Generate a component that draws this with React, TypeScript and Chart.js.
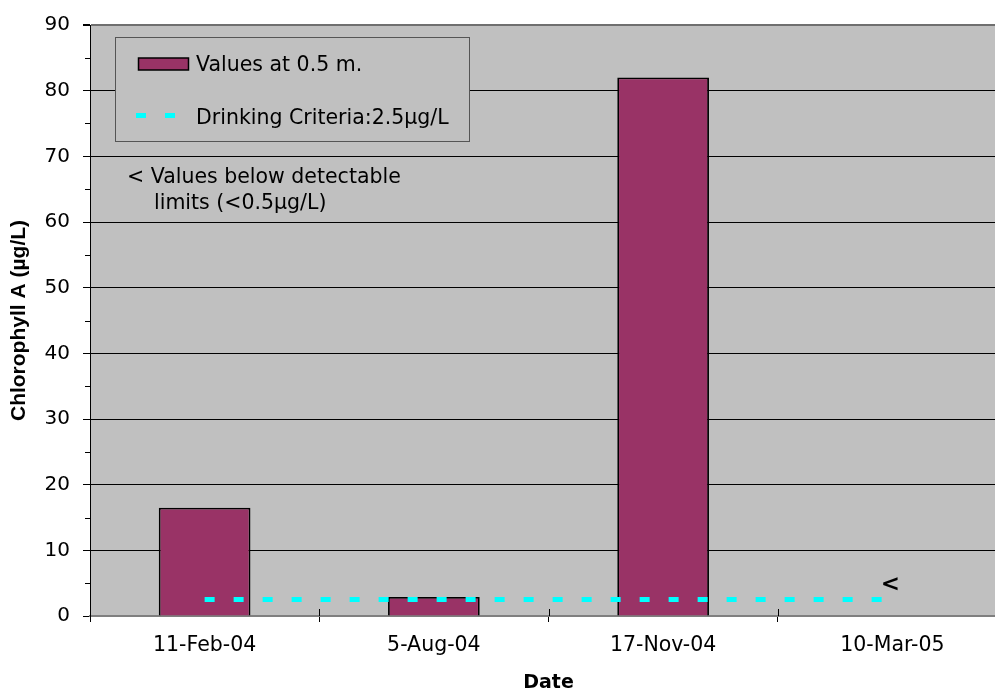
import { useEffect, useRef } from "react";
import { Chart, registerables } from "chart.js";

Chart.register(...registerables);

// Sampling dates and measured chlorophyll A (µg/L) at 0.5 m depth
const sampleDates = ["11-Feb-04", "5-Aug-04", "17-Nov-04", "10-Mar-05"];
const valuesAt05m: (number | null)[] = [16.5, 2.9, 82, null];
const drinkingCriteria = [2.5, 2.5, 2.5, 2.5];
// "<" marks samples below the detection limit
const belowDetection = [false, false, false, true];

const yMin = 0;
const yMax = 90;
const yStep = 10;
const yMinorStep = 5;

const BAR_FILL = "#993366";
const PLOT_BG = "#C0C0C0";
const CRITERIA_COLOR = "#00FFFF";
const FONT = "'DejaVu Sans', sans-serif";

const decorations = {
  id: "decorations",
  beforeDraw(chart: any) {
    const { ctx, chartArea: a } = chart;
    ctx.save();
    ctx.fillStyle = "#ffffff";
    ctx.fillRect(0, 0, chart.width, chart.height);
    ctx.fillStyle = PLOT_BG;
    ctx.fillRect(a.left, a.top, a.right - a.left, a.bottom - a.top);
    ctx.restore();
  },
  afterDatasetsDraw(chart: any) {
    const { ctx } = chart;
    ctx.save();
    // legend box
    ctx.fillStyle = PLOT_BG;
    ctx.fillRect(115.5, 37.5, 354, 104);
    ctx.strokeStyle = "#555555";
    ctx.lineWidth = 1;
    ctx.strokeRect(115.5, 37.5, 354, 104);
    // bar swatch
    ctx.fillStyle = BAR_FILL;
    ctx.fillRect(138.5, 58, 50, 12);
    ctx.strokeStyle = "#000";
    ctx.lineWidth = 1.5;
    ctx.strokeRect(138.5, 58, 50, 12);
    // criteria swatch
    ctx.fillStyle = CRITERIA_COLOR;
    ctx.fillRect(136, 113, 10, 5);
    ctx.fillRect(165, 113, 10, 5);
    ctx.fillStyle = "#000";
    ctx.font = `20.5px ${FONT}`;
    ctx.textAlign = "left";
    ctx.textBaseline = "alphabetic";
    ctx.fillText("Values at 0.5 m.", 196, 71);
    ctx.fillText("Drinking Criteria:2.5µg/L", 196, 123.5);
    ctx.restore();
  },
  afterDraw(chart: any) {
    const { ctx, chartArea: a } = chart;
    const x = chart.scales.x;
    const y = chart.scales.y;
    ctx.save();
    ctx.strokeStyle = "#000";
    ctx.lineWidth = 1;
    // minor y ticks
    for (let v = yMin + yMinorStep; v < yMax; v += yStep) {
      const py = Math.round(y.getPixelForValue(v)) + 0.5;
      ctx.beginPath();
      ctx.moveTo(a.left - 5, py);
      ctx.lineTo(a.left, py);
      ctx.stroke();
    }
    // inner part of category boundary ticks
    for (let i = 0; i <= sampleDates.length; i++) {
      const px = Math.round(x.getPixelForValue(i - 0.5)) + 0.5;
      ctx.beginPath();
      ctx.moveTo(px, a.bottom - 7);
      ctx.lineTo(px, a.bottom);
      ctx.stroke();
    }
    // below-detection markers
    ctx.fillStyle = "#000";
    ctx.font = `bold 23px ${FONT}`;
    ctx.textAlign = "center";
    ctx.textBaseline = "middle";
    belowDetection.forEach((flag, i) => {
      if (!flag) return;
      const px = x.getPixelForValue(i);
      const py = y.getPixelForValue(drinkingCriteria[i]) - 15;
      ctx.fillText("<", px - 2, py);
    });
    // note
    ctx.font = `20.5px ${FONT}`;
    ctx.textAlign = "left";
    ctx.textBaseline = "alphabetic";
    ctx.fillText("< Values below detectable", 127, 182.5);
    ctx.fillText("limits (<0.5µg/L)", 154, 208.5);
    ctx.restore();
  },
};

export default function App() {
  const canvasRef = useRef<HTMLCanvasElement | null>(null);

  useEffect(() => {
    const canvas = canvasRef.current;
    if (!canvas) return;
    const chart = new Chart(canvas, {
      type: "bar",
      data: {
        labels: sampleDates,
        datasets: [
          {
            type: "line",
            label: "Drinking Criteria:2.5µg/L",
            data: drinkingCriteria,
            borderColor: CRITERIA_COLOR,
            borderWidth: 5,
            borderDash: [10, 19],
            borderCapStyle: "butt",
            pointRadius: 0,
            fill: false,
            order: 0,
          } as any,
          {
            type: "bar",
            label: "Values at 0.5 m.",
            data: valuesAt05m,
            backgroundColor: BAR_FILL,
            borderColor: "#000",
            borderWidth: 1.8,
            categoryPercentage: 1,
            barPercentage: 0.4,
            order: 1,
          } as any,
        ],
      },
      options: {
        responsive: false,
        animation: false,
        layout: { padding: { top: 24, right: 8, bottom: 0, left: 0 } },
        plugins: {
          legend: { display: false },
          tooltip: { enabled: false },
        },
        scales: {
          x: {
            type: "category",
            offset: true,
            grid: {
              display: true,
              drawOnChartArea: false,
              offset: true,
              drawTicks: true,
              tickLength: 6,
              color: "#000",
            },
            border: { display: true, color: "#7f7f7f", width: 2 },
            ticks: {
              color: "#000",
              font: { family: FONT, size: 20.5 },
              padding: 11,
              maxRotation: 0,
              autoSkip: false,
            },
            title: {
              display: true,
              text: "Date",
              color: "#000",
              font: { family: FONT, size: 19, weight: "bold", lineHeight: 1 },
              padding: { top: 0, bottom: -2 },
            },
            afterFit(scale: any) {
              scale.height = 75;
            },
          },
          y: {
            min: yMin,
            max: yMax,
            ticks: {
              stepSize: yStep,
              color: "#000",
              font: { family: FONT, size: 20 },
              padding: 13,
            },
            grid: {
              color: (c: any) =>
                c.tick && c.tick.value === yMax ? "#6f6f6f" : c.tick && c.tick.value === yMin ? "rgba(0,0,0,0)" : "#000",
              lineWidth: (c: any) => (c.tick && c.tick.value === yMax ? 2 : 1),
              tickColor: "#000",
              tickLength: 7,
            },
            border: { display: true, color: "#000", width: 1 },
            title: {
              display: true,
              text: "Chlorophyll A (µg/L)",
              color: "#000",
              font: { family: "'Liberation Sans', Arial, sans-serif", size: 21, weight: "bold", lineHeight: 1.2 },
              padding: { top: 7, bottom: 0 },
            },
            afterFit(scale: any) {
              scale.width = 90;
            },
          },
        },
      },
      plugins: [decorations],
    });
    return () => chart.destroy();
  }, []);

  return (
    <div
      style={{
        position: "fixed",
        left: 0,
        top: 0,
        width: 995,
        height: 691,
        overflow: "hidden",
        background: "#fff",
      }}
    >
      <canvas ref={canvasRef} width={1015} height={691} style={{ display: "block" }} />
    </div>
  );
}
